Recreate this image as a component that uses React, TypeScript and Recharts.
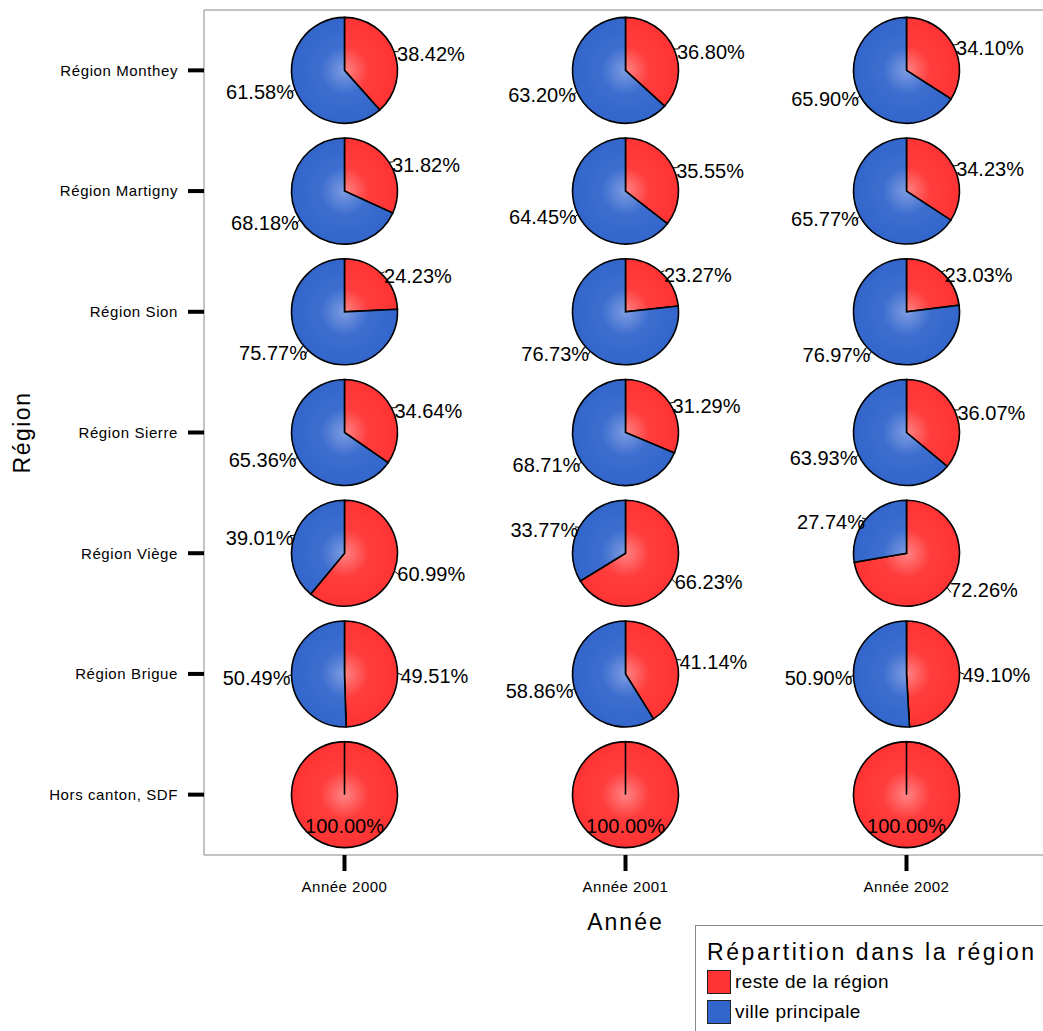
import { ScatterChart, Scatter, XAxis, YAxis, Sector, Legend, CartesianGrid } from 'recharts';

// Regions top to bottom, years left to right
const REGIONS = [
  'Région Monthey',
  'Région Martigny',
  'Région Sion',
  'Région Sierre',
  'Région Viège',
  'Région Brigue',
  'Hors canton, SDF',
];
const YEARS = ['Année 2000', 'Année 2001', 'Année 2002'];

// share (%) of "reste de la région" and "ville principale", per year, in REGIONS order
const RESTE_2000 = [38.42, 31.82, 24.23, 34.64, 60.99, 49.51, 100];
const VILLE_2000 = [61.58, 68.18, 75.77, 65.36, 39.01, 50.49, 0];
const RESTE_2001 = [36.8, 35.55, 23.27, 31.29, 66.23, 41.14, 100];
const VILLE_2001 = [63.2, 64.45, 76.73, 68.71, 33.77, 58.86, 0];
const RESTE_2002 = [34.1, 34.23, 23.03, 36.07, 72.26, 49.1, 100];
const VILLE_2002 = [65.9, 65.77, 76.97, 63.93, 27.74, 50.9, 0];

const SERIES = [
  { name: 'reste de la région', color: '#FF3333', light: '#FF8585' },
  { name: 'ville principale', color: '#3366CC', light: '#7F9DE3' },
];

const RESTE = [RESTE_2000, RESTE_2001, RESTE_2002];
const VILLE = [VILLE_2000, VILLE_2001, VILLE_2002];

const points = YEARS.flatMap((year, i) =>
  REGIONS.map((region, j) => ({ year, region, reste: RESTE[i][j], ville: VILLE[i][j] }))
);

const FONT = '"Liberation Sans", Arial, sans-serif';
const R = 53;

function PieGlyph(props: any) {
  const { cx, cy, payload } = props;
  if (cx == null || cy == null || !payload) return null;
  const id = `pie-${YEARS.indexOf(payload.year)}-${REGIONS.indexOf(payload.region)}`;
  const values = [payload.reste, payload.ville];

  let acc = 0;
  const slices = values.map((v: number, k: number) => {
    const start = acc;
    acc += v;
    return { v, k, start };
  });

  return (
    <g>
      <defs>
        {SERIES.map((s, k) => (
          <radialGradient key={k} id={`${id}-${k}`} gradientUnits="userSpaceOnUse" cx={cx} cy={cy} r={R}>
            <stop offset="0%" stopColor={s.light} />
            <stop offset="45%" stopColor={s.color} stopOpacity={0.95} />
            <stop offset="100%" stopColor={s.color} />
          </radialGradient>
        ))}
      </defs>
      {slices
        .filter((s) => s.v > 0)
        .map((s) => (
          <Sector
            key={s.k}
            cx={cx}
            cy={cy}
            innerRadius={0}
            outerRadius={R}
            startAngle={90 - s.start * 3.6}
            endAngle={90 - (s.start + s.v) * 3.6}
            fill={`url(#${id}-${s.k})`}
            stroke="#000"
            strokeWidth={1.6}
          />
        ))}
      {slices
        .filter((s) => s.v > 0)
        .map((s) => {
          const label = `${s.v.toFixed(2)}%`;
          if (s.v >= 100) {
            return (
              <text key={`l${s.k}`} x={cx} y={cy + 38} textAnchor="middle" fontSize={20} fill="#000">
                {label}
              </text>
            );
          }
          const mid = ((s.start + s.v / 2) * 3.6 * Math.PI) / 180;
          const dx = Math.sin(mid);
          const dy = -Math.cos(mid);
          const ex = cx + R * dx;
          const ey = cy + R * dy;
          const right = dx > 0;
          return (
            <g key={`l${s.k}`}>
              <line x1={ex} y1={ey} x2={ex + 5 * dx} y2={ey + 5 * dy + 2} stroke="#000" strokeWidth={1} />
              <text
                x={right ? ex + 3 : ex - 1}
                y={ey + 3}
                dominantBaseline="central"
                textAnchor={right ? 'start' : 'end'}
                fontSize={20}
                fill="#000"
              >
                {label}
              </text>
            </g>
          );
        })}
    </g>
  );
}

function LegendBox() {
  return (
    <div
      style={{
        width: 360,
        height: 130,
        border: '1px solid #888',
        background: '#fff',
        boxSizing: 'border-box',
        paddingLeft: 11,
        paddingTop: 11,
        fontFamily: FONT,
        color: '#000',
        textAlign: 'left',
      }}
    >
      <div style={{ fontSize: 23, letterSpacing: 2.6, lineHeight: '30px', whiteSpace: 'nowrap' }}>
        Répartition dans la région
      </div>
      {SERIES.map((s) => (
        <div key={s.name} style={{ display: 'flex', alignItems: 'center', height: 30 }}>
          <span
            style={{
              width: 24,
              height: 24,
              background: s.color,
              border: '1px solid #222',
              boxSizing: 'border-box',
              marginRight: 4,
            }}
          />
          <span style={{ fontSize: 19, letterSpacing: 0.4 }}>{s.name}</span>
        </div>
      ))}
    </div>
  );
}

export default function App() {
  return (
    <div
      style={{
        position: 'absolute',
        left: 0,
        top: 0,
        width: 1043,
        height: 1031,
        overflow: 'hidden',
        background: '#fff',
        fontFamily: FONT,
      }}
    >
      <ScatterChart width={1060} height={1031} margin={{ top: 10, right: 13, bottom: 0, left: 0 }}>
        {/* top edge of the plot frame */}
        <CartesianGrid
          stroke="#888"
          vertical={false}
          horizontalCoordinatesGenerator={({ offset }: any) => [offset.top]}
        />
        <XAxis
          type="category"
          dataKey="year"
          allowDuplicatedCategory={false}
          height={176}
          axisLine={{ stroke: '#888' }}
          tickLine={{ stroke: '#000', strokeWidth: 4 }}
          tickSize={16}
          tickMargin={10}
          tick={{ fill: '#000', fontSize: 15, letterSpacing: 0.5 }}
          label={{
            content: ({ viewBox }: any) => (
              <text
                x={viewBox.x + viewBox.width / 2}
                y={viewBox.y + 75}
                textAnchor="middle"
                fontSize={23}
                letterSpacing={2}
                fill="#000"
              >
                Année
              </text>
            ),
          }}
        />
        <YAxis
          type="category"
          dataKey="region"
          allowDuplicatedCategory={false}
          reversed
          width={204}
          axisLine={{ stroke: '#888' }}
          tickLine={{ stroke: '#000', strokeWidth: 4 }}
          tickSize={16}
          tickMargin={10}
          tick={{ fill: '#000', fontSize: 15, letterSpacing: 0.6 }}
          label={{
            content: ({ viewBox }: any) => {
              const x = viewBox.x + 30;
              const y = viewBox.y + viewBox.height / 2;
              return (
                <text
                  x={x}
                  y={y}
                  transform={`rotate(-90, ${x}, ${y})`}
                  textAnchor="middle"
                  fontSize={23}
                  letterSpacing={1.5}
                  fill="#000"
                >
                  Région
                </text>
              );
            },
          }}
        />
        <Scatter data={points} shape={(p: any) => <PieGlyph {...p} />} isAnimationActive={false} />
        <Legend
          layout="vertical"
          align="center"
          verticalAlign="middle"
          content={() => <LegendBox />}
          wrapperStyle={{ left: 695, top: 925, right: 'auto', bottom: 'auto', width: 360 }}
        />
      </ScatterChart>
    </div>
  );
}
